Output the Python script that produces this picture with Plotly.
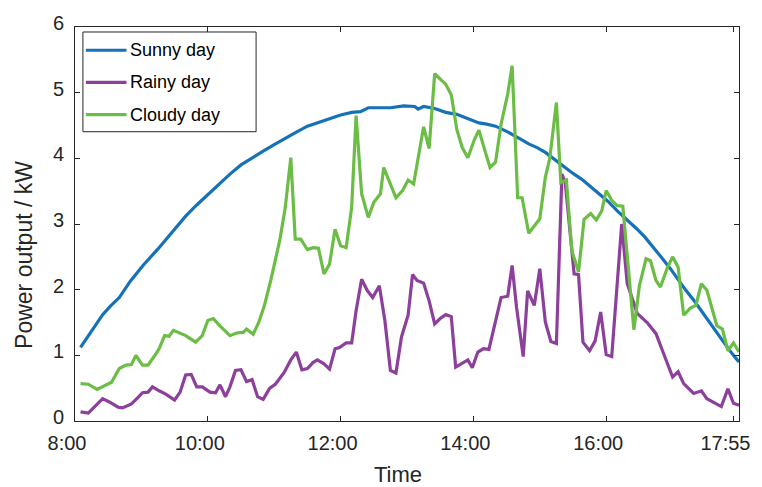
import plotly.graph_objects as go

# ---------------- data ----------------
sunny_time = ["8:05", "8:15", "8:25", "8:32", "8:40", "8:50", "9:02", "9:15", "9:28", "9:40",
              "9:50", "10:00", "10:10", "10:20", "10:30", "10:40", "10:50", "11:00", "11:10", "11:20",
              "11:30", "11:40", "11:50", "12:00", "12:10", "12:18", "12:25", "12:45", "12:57", "13:07",
              "13:10", "13:15", "13:25", "13:35", "13:45", "13:55", "14:05", "14:12", "14:20", "14:30",
              "14:38", "14:45", "14:50", "14:58", "15:05", "15:12", "15:20", "15:30", "15:38", "15:46",
              "15:54", "16:02", "16:10", "16:20", "16:28", "16:35", "16:43", "16:50", "16:58", "17:05",
              "17:12", "17:20", "17:27", "17:35", "17:42", "17:50", "17:56", "18:00"]
sunny_kw = [1.12, 1.38, 1.62, 1.75, 1.88, 2.13, 2.38, 2.62, 2.88, 3.12,
            3.29, 3.45, 3.61, 3.76, 3.90, 4.01, 4.11, 4.21, 4.31, 4.40,
            4.49, 4.55, 4.60, 4.66, 4.70, 4.71, 4.77, 4.77, 4.80, 4.79,
            4.75, 4.79, 4.76, 4.70, 4.67, 4.61, 4.54, 4.52, 4.49, 4.41,
            4.34, 4.27, 4.22, 4.16, 4.09, 4.00, 3.89, 3.77, 3.68, 3.57,
            3.46, 3.34, 3.20, 3.05, 2.92, 2.80, 2.64, 2.49, 2.32, 2.15,
            1.99, 1.82, 1.65, 1.47, 1.30, 1.11, 0.98, 0.90]

rainy_time = ["8:05", "8:12", "8:16", "8:25", "8:31", "8:39", "8:43", "8:51", "8:57", "9:01",
              "9:06", "9:10", "9:16", "9:22", "9:30", "9:35", "9:40", "9:45", "9:50", "9:55",
              "10:02", "10:07", "10:11", "10:16", "10:20", "10:25", "10:30", "10:35", "10:40", "10:45",
              "10:50", "10:56", "11:01", "11:09", "11:15", "11:20", "11:25", "11:30", "11:35", "11:39",
              "11:45", "11:50", "11:55", "11:59", "12:05", "12:10", "12:14", "12:19", "12:24", "12:29",
              "12:35", "12:40", "12:45", "12:50", "12:55", "13:01", "13:05", "13:09", "13:15", "13:20",
              "13:25", "13:30", "13:35", "13:40", "13:44", "13:49", "13:55", "13:59", "14:04", "14:09",
              "14:14", "14:25", "14:31", "14:35", "14:39", "14:45", "14:49", "14:55", "15:00", "15:05",
              "15:10", "15:15", "15:20", "15:23", "15:31", "15:35", "15:39", "15:45", "15:50", "15:55",
              "16:00", "16:05", "16:14", "16:19", "16:28", "16:37", "16:45", "16:52", "17:00", "17:05",
              "17:10", "17:19", "17:26", "17:31", "17:44", "17:50", "17:55", "18:00"]
rainy_kw = [0.14, 0.12, 0.19, 0.34, 0.29, 0.21, 0.20, 0.26, 0.36, 0.43,
            0.44, 0.52, 0.46, 0.41, 0.32, 0.44, 0.70, 0.71, 0.52, 0.52,
            0.44, 0.43, 0.55, 0.37, 0.52, 0.77, 0.78, 0.60, 0.63, 0.37,
            0.33, 0.50, 0.56, 0.74, 0.93, 1.05, 0.78, 0.80, 0.89, 0.93,
            0.87, 0.79, 1.10, 1.12, 1.19, 1.19, 1.68, 2.16, 1.99, 1.88,
            2.06, 1.53, 0.77, 0.73, 1.28, 1.61, 2.23, 2.14, 2.10, 1.83,
            1.48, 1.56, 1.62, 1.59, 0.82, 0.87, 0.93, 0.81, 1.05, 1.10,
            1.09, 1.88, 1.90, 2.37, 1.73, 0.98, 1.98, 1.76, 2.32, 1.51,
            1.21, 1.18, 3.76, 3.63, 2.24, 2.23, 1.20, 1.07, 1.22, 1.66,
            1.01, 0.98, 3.00, 2.09, 1.64, 1.50, 1.33, 1.02, 0.67, 0.75,
            0.57, 0.42, 0.46, 0.34, 0.22, 0.49, 0.27, 0.24]

cloudy_time = ["8:05", "8:12", "8:20", "8:27", "8:33", "8:40", "8:46", "8:51", "8:55", "9:01",
               "9:06", "9:13", "9:16", "9:21", "9:25", "9:29", "9:40", "9:49", "9:55", "10:00",
               "10:05", "10:11", "10:20", "10:26", "10:32", "10:35", "10:41", "10:46", "10:51", "10:57",
               "11:05", "11:10", "11:15", "11:19", "11:24", "11:30", "11:35", "11:40", "11:45", "11:50",
               "11:55", "12:00", "12:05", "12:10", "12:14", "12:19", "12:25", "12:30", "12:36", "12:39",
               "12:45", "12:50", "12:56", "13:01", "13:06", "13:10", "13:15", "13:20", "13:25", "13:31",
               "13:35", "13:40", "13:45", "13:50", "13:55", "14:01", "14:05", "14:10", "14:15", "14:20",
               "14:25", "14:31", "14:35", "14:40", "14:44", "14:50", "14:55", "15:00", "15:05", "15:09",
               "15:15", "15:19", "15:24", "15:29", "15:35", "15:40", "15:46", "15:51", "15:56", "16:00",
               "16:05", "16:10", "16:15", "16:25", "16:30", "16:36", "16:40", "16:45", "16:49", "16:55",
               "17:00", "17:05", "17:10", "17:16", "17:21", "17:26", "17:31", "17:35", "17:40", "17:45",
               "17:50", "17:55", "18:00"]
cloudy_kw = [0.57, 0.56, 0.48, 0.54, 0.59, 0.80, 0.85, 0.86, 1.00, 0.85,
             0.85, 1.02, 1.10, 1.30, 1.29, 1.38, 1.30, 1.20, 1.30, 1.53,
             1.56, 1.45, 1.30, 1.34, 1.35, 1.40, 1.32, 1.50, 1.75, 2.15,
             2.75, 3.25, 4.01, 2.77, 2.77, 2.61, 2.64, 2.63, 2.24, 2.39,
             2.92, 2.67, 2.64, 3.25, 4.65, 3.46, 3.10, 3.33, 3.46, 3.86,
             3.61, 3.40, 3.51, 3.67, 3.61, 4.01, 4.48, 4.15, 5.29, 5.19,
             5.13, 4.97, 4.44, 4.16, 4.01, 4.29, 4.43, 4.14, 3.86, 3.94,
             4.52, 4.98, 5.41, 3.40, 3.40, 2.86, 2.97, 3.08, 3.71, 4.00,
             4.85, 3.63, 3.67, 2.59, 2.27, 3.07, 3.16, 3.06, 3.20, 3.51,
             3.36, 3.28, 3.27, 1.39, 2.06, 2.47, 2.44, 2.14, 2.04, 2.32,
             2.50, 2.34, 1.61, 1.72, 1.76, 2.09, 1.99, 1.76, 1.45, 1.40,
             1.07, 1.19, 1.05]

series_names = ["Sunny day", "Rainy day", "Cloudy day"]
x_tick_labels = ["8:00", "10:00", "12:00", "14:00", "16:00", "17:55"]
y_ticks = [0, 1, 2, 3, 4, 5, 6]
x_start, x_end = "8:00", "18:00"

# ---------------- helpers / styling ----------------
def minutes(s):
    h, m = s.split(":")
    return (int(h) - 8) * 60 + int(m)

colors = ["#1672B8", "#8D3F9C", "#6CBD45"]
FONT = "Liberation Sans, Arial, Helvetica, sans-serif"
INK = "#262626"

W, H = 762, 487
ML, MR, MT, MB = 75, 16, 26, 66
PW, PH = W - ML - MR, H - MT - MB


def pxx(p):
    return (p - ML) / PW


def pxy(p):
    return (H - MB - p) / PH


fig = go.Figure()
for name, t, v, c in zip(series_names,
                         [sunny_time, rainy_time, cloudy_time],
                         [sunny_kw, rainy_kw, cloudy_kw], colors):
    fig.add_trace(go.Scatter(x=[minutes(s) for s in t], y=v, mode="lines", name=name,
                             line=dict(color=c, width=3.2), showlegend=False))

axis_common = dict(showline=True, linecolor=INK, linewidth=1, mirror="ticks",
                   ticks="inside", ticklen=5, tickcolor=INK, tickwidth=1,
                   showgrid=False, zeroline=False,
                   tickfont=dict(family=FONT, size=20, color=INK))

fig.update_xaxes(range=[minutes(x_start), minutes(x_end)],
                 tickvals=[minutes(s) for s in x_tick_labels], ticktext=x_tick_labels,
                 ticklabelshift=-8, ticklabelstandoff=4, **axis_common)
fig.update_yaxes(range=[y_ticks[0], y_ticks[-1]], tickvals=y_ticks,
                 ticklabelshift=-4, ticklabelstandoff=6, **axis_common)

# legend box (manual, MATLAB style)
shapes = [dict(type="rect", xref="paper", yref="paper",
               x0=pxx(83), x1=pxx(258), y0=pxy(131), y1=pxy(31),
               line=dict(color=INK, width=1), fillcolor="white", layer="above")]
annotations = []
for i, (name, c) in enumerate(zip(series_names, colors)):
    yc = 49.3 + i * 32.3
    shapes.append(dict(type="line", xref="paper", yref="paper",
                       x0=pxx(86), x1=pxx(127), y0=pxy(yc), y1=pxy(yc),
                       line=dict(color=c, width=3.2), layer="above"))
    annotations.append(dict(xref="paper", yref="paper", x=pxx(129), y=pxy(yc),
                            xanchor="left", yanchor="middle", showarrow=False,
                            text=name, font=dict(family=FONT, size=18, color="#000000")))

annotations.append(dict(xref="paper", yref="paper", x=pxx(401), y=pxy(475),
                        xanchor="center", yanchor="middle", showarrow=False,
                        text="Time", font=dict(family=FONT, size=22, color=INK)))
annotations.append(dict(xref="paper", yref="paper", x=pxx(24), y=pxy(255),
                        xanchor="center", yanchor="middle", showarrow=False, textangle=-90,
                        text="Power output / kW", font=dict(family=FONT, size=23, color=INK)))

fig.update_layout(width=W, height=H, margin=dict(l=ML, r=MR, t=MT, b=MB),
                  paper_bgcolor="white", plot_bgcolor="white",
                  shapes=shapes, annotations=annotations, showlegend=False,
                  font=dict(family=FONT, color=INK))

# remove the browser's default page margin so the figure fills the window exactly
fig.write_html("out.html", config={"displayModeBar": False},
               post_script="document.body.style.margin='0';document.body.style.overflow='hidden';")
